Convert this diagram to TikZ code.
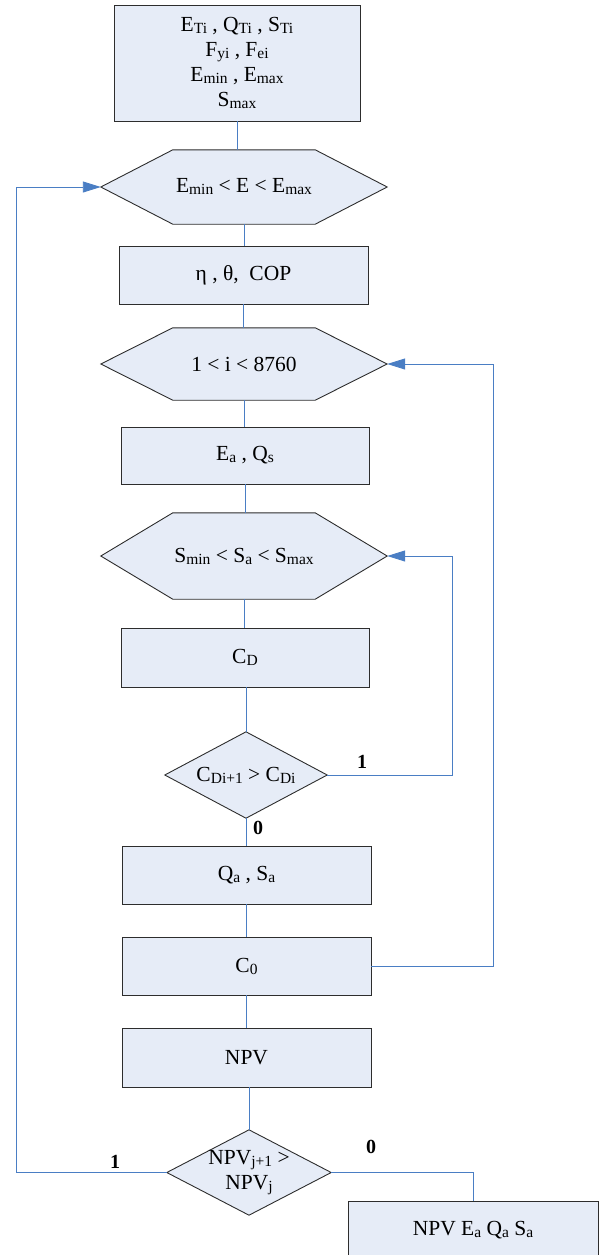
\documentclass[tikz,border=0pt]{standalone}
\usepackage{fontspec}
\setmainfont{Liberation Serif}
\usetikzlibrary{arrows.meta,backgrounds}
\definecolor{boxfill}{RGB}{230,236,247}
\definecolor{boxline}{RGB}{45,45,45}
\definecolor{flow}{RGB}{74,126,196}
% lowered, smaller index text
\newcommand\lo[1]{\raisebox{-0.09em}{\fontsize{15.5}{15.5}\selectfont #1}}

\begin{document}
\begin{tikzpicture}[x=1pt,y=-1pt,
  font=\fontsize{21.5}{25}\selectfont,
  procbox/.style={draw=boxline, fill=boxfill, line width=0.9pt, rectangle,
    inner sep=0pt, align=center},
  shapeframe/.style={rectangle, inner sep=0pt, align=center},
  shapeoutline/.style={draw=boxline, fill=boxfill, line width=0.9pt},
  flowline/.style={draw=flow, line width=0.9pt},
  flowarrow/.style={flowline, -{Triangle[length=18pt,width=11pt]}},
  flowtag/.style={font=\fontsize{20}{24}\selectfont\bfseries}]

\useasboundingbox (0,0) rectangle (605,1255);

% main column
\node[procbox, minimum width=246pt, minimum height=116pt] (b1) at (237,63)
  {E\lo{Ti} , Q\lo{Ti} , S\lo{Ti}\\ F\lo{yi} , F\lo{ei}\\ E\lo{min} , E\lo{max}\\ S\lo{max}};
\node[shapeframe, minimum width=286pt, minimum height=74pt] (h1) at (244,187)
  {E\lo{min} < E < E\lo{max}};
\node[procbox, minimum width=249pt, minimum height=58pt] (b2) at (243.5,275)
  {η , θ,\ \ COP};
\node[shapeframe, minimum width=286pt, minimum height=72pt] (h2) at (244,364)
  {1 < i < 8760};
\node[procbox, minimum width=248pt, minimum height=57pt] (b3) at (245,455.5)
  {E\lo{a} , Q\lo{s}};
\node[shapeframe, minimum width=286pt, minimum height=86pt] (h3) at (244,556)
  {S\lo{min} < S\lo{a} < S\lo{max}};
\node[procbox, minimum width=248pt, minimum height=59pt] (b4) at (245,657.5)
  {C\lo{D}};
\node[shapeframe, minimum width=162pt, minimum height=86pt] (d1) at (246,775)
  {C\lo{Di+1} > C\lo{Di}};
\node[procbox, minimum width=249pt, minimum height=58pt] (b5) at (246.5,875)
  {Q\lo{a} , S\lo{a}};
\node[procbox, minimum width=249pt, minimum height=58pt] (b6) at (246.5,966)
  {C\lo{0}};
\node[procbox, minimum width=249pt, minimum height=59pt] (b7) at (246.5,1057.5)
  {NPV};
\node[shapeframe, minimum width=164pt, minimum height=85pt] (d2) at (249,1172.5)
  {NPV\lo{j+1} >\\NPV\lo{j}};
\node[procbox, minimum width=250pt, minimum height=58pt] (b8) at (473,1230)
  {NPV E\lo{a} Q\lo{a} S\lo{a}};

% hexagon and diamond outlines behind their texts
\begin{scope}[on background layer]
  \foreach \n in {h1,h2,h3}
    \draw[shapeoutline] (\n.west) -- ([xshift=72pt]\n.north west)
      -- ([xshift=-72pt]\n.north east) -- (\n.east)
      -- ([xshift=-72pt]\n.south east) -- ([xshift=72pt]\n.south west) -- cycle;
  \foreach \n in {d1,d2}
    \draw[shapeoutline] (\n.west) -- (\n.north) -- (\n.east) -- (\n.south) -- cycle;
\end{scope}

% straight links down the column
\draw[flowline] (b1.south) -- (b1.south |- h1.north);
\draw[flowline] (h1.south) -- (h1.south |- b2.north);
\draw[flowline] (b2.south) -- (b2.south |- h2.north);
\draw[flowline] (h2.south) -- (h2.south |- b3.north);
\draw[flowline] (b3.south) -- (b3.south |- h3.north);
\draw[flowline] (h3.south) -- (h3.south |- b4.north);
\draw[flowline] (d1.north |- b4.south) -- (d1.north);
\draw[flowline] (d1.south) -- (d1.south |- b5.north);
\draw[flowline] (b5.south) -- (b5.south |- b6.north);
\draw[flowline] (b6.south) -- (b6.south |- b7.north);
\draw[flowline] (d2.north |- b7.south) -- (d2.north);

% feedback loops
\coordinate (r1) at (452,775);
\coordinate (r2) at (493,966);
\coordinate (l1) at (16,1172.5);
\draw[flowarrow] (d1.east) -- (r1) |- (h3.east);
\draw[flowarrow] (b6.east) -- (r2) |- (h2.east);
\draw[flowarrow] (d2.west) -- (l1) |- (h1.west);
\draw[flowline] (d2.east) -| (b8.north);

% branch labels
\node[flowtag] (t1) at (362,762) {1};
\node[flowtag] (t2) at (258,828) {0};
\node[flowtag] (t3) at (115,1162) {1};
\node[flowtag] (t4) at (371,1147) {0};
\end{tikzpicture}
\end{document}
